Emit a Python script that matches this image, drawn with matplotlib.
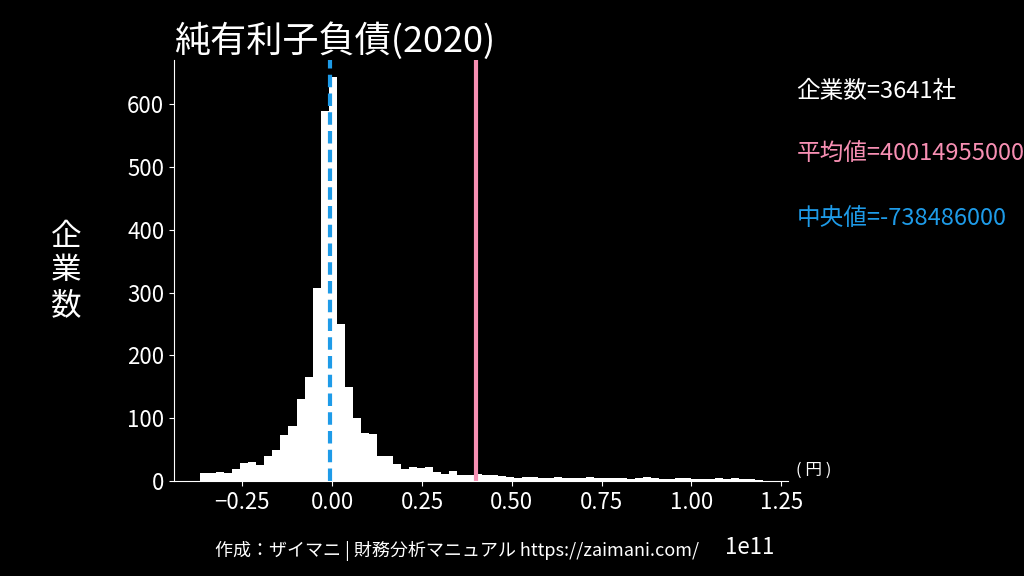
import numpy as np
import matplotlib.pyplot as plt

plt.rcParams['font.family'] = 'Noto Sans CJK JP'

# ヒストグラム (単位: 1e11 円)
bin_start = -0.368
bin_width = 0.0224
counts = [12, 12, 15, 13, 19, 28, 31, 26, 39, 50, 73, 88, 130, 166, 307, 589, 643,
          250, 150, 101, 76, 75, 40, 39, 27, 19, 23, 21, 22, 14, 11, 16, 10, 10,
          11, 10, 10, 8, 6, 5, 6, 7, 4, 4, 6, 5, 4, 5, 7, 5, 4, 5, 4, 3, 5, 6, 4,
          3, 3, 5, 4, 3, 3, 3, 4, 3, 4, 3, 3, 2]
n_firms = 3641
mean_val = 40014955000 / 1e11
median_val = -738486000 / 1e11

edges = bin_start + bin_width * np.arange(len(counts) + 1)

fig = plt.figure(figsize=(10.24, 5.76), dpi=100, facecolor='black')
ax = fig.add_axes([0.17, 0.165, 0.6, 0.73], facecolor='black')
ax.bar(edges[:-1], counts, width=bin_width, align='edge', color='white', linewidth=0)
ax.axvline(mean_val, color='#f78fb3', lw=3)
ax.axvline(median_val, color='#1e9be8', lw=3, ls='--', dashes=(3, 1.5))

ax.set_xlim(-0.44, 1.27)
ax.set_ylim(0, 670)
ax.set_xticks([-0.25, 0, 0.25, 0.5, 0.75, 1.0, 1.25])
ax.set_xticklabels(['−0.25', '0.00', '0.25', '0.50', '0.75', '1.00', '1.25'])
ax.set_yticks([0, 100, 200, 300, 400, 500, 600])
for s in ['top', 'right']:
    ax.spines[s].set_visible(False)
for s in ['left', 'bottom']:
    ax.spines[s].set_color('white')
ax.tick_params(colors='white', labelsize=16)
ax.set_title('純有利子負債(2020)', color='white', fontsize=26, loc='left', x=0.0, y=1.0)
fig.text(0.065, 0.53, '企\n業\n数', color='white', fontsize=22, ha='center', va='center', linespacing=1.15)

fig.text(0.777, 0.175, '( 円 )', color='white', fontsize=12)
fig.text(0.708, 0.038, '1e11', color='white', fontsize=16)
fig.text(0.778, 0.83, f'企業数={n_firms}社', color='white', fontsize=17)
fig.text(0.778, 0.72, '平均値=40014955000', color='#f78fb3', fontsize=17)
fig.text(0.778, 0.61, '中央値=-738486000', color='#1e9be8', fontsize=17)
fig.text(0.21, 0.035, '作成：ザイマニ | 財務分析マニュアル https://zaimani.com/', color='white',
         fontsize=13, ha='left')

fig.savefig('out.png', dpi=100, facecolor='black')
